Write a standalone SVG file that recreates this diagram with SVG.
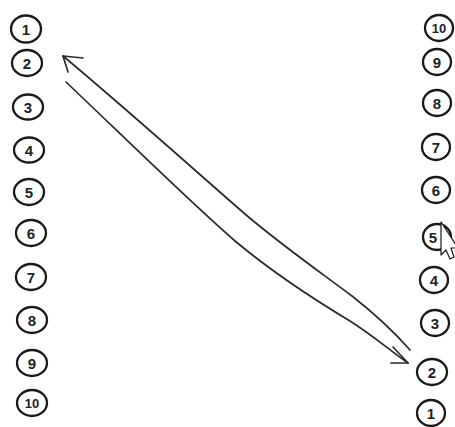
<svg xmlns="http://www.w3.org/2000/svg" width="455" height="427" viewBox="0 0 455 427">
<style>
.c{fill:#fff;stroke:#1a1a1a;stroke-width:2.3}
.t{font-family:"Liberation Sans",Arial,sans-serif;font-size:15px;font-weight:bold;fill:#222;text-anchor:middle;dominant-baseline:central}
.s{font-size:13px}
.ln{fill:none;stroke:#2a2a2a;stroke-width:1.7;stroke-linecap:round;stroke-linejoin:round}
</style>
<rect width="455" height="427" fill="#fff"/>
<g id="left">
<g id="L1"><ellipse class="c" cx="26" cy="29" rx="15" ry="13.5"/><text class="t" x="26" y="29">1</text></g>
<g id="L2"><ellipse class="c" cx="27" cy="63" rx="15" ry="13"/><text class="t" x="27" y="63">2</text></g>
<g id="L3"><ellipse class="c" cx="28" cy="107" rx="15" ry="12.5"/><text class="t" x="28" y="107">3</text></g>
<g id="L4"><ellipse class="c" cx="29" cy="150" rx="15" ry="12.5"/><text class="t" x="29" y="150">4</text></g>
<g id="L5"><ellipse class="c" cx="29" cy="192" rx="15" ry="13"/><text class="t" x="29" y="192">5</text></g>
<g id="L6"><ellipse class="c" cx="31" cy="233" rx="15" ry="13"/><text class="t" x="31" y="233">6</text></g>
<g id="L7"><ellipse class="c" cx="31" cy="277" rx="15" ry="13"/><text class="t" x="31" y="277">7</text></g>
<g id="L8"><ellipse class="c" cx="32" cy="320" rx="15" ry="13"/><text class="t" x="32" y="320">8</text></g>
<g id="L9"><ellipse class="c" cx="32" cy="363" rx="15" ry="13"/><text class="t" x="32" y="363">9</text></g>
<g id="L10"><ellipse class="c" cx="32" cy="403" rx="15" ry="13"/><text class="t s" x="32" y="403">10</text></g>
</g>
<g id="right">
<g id="R10"><ellipse class="c" cx="439" cy="28" rx="14" ry="13"/><text class="t s" x="439" y="28">10</text></g>
<g id="R9"><ellipse class="c" cx="437" cy="62" rx="14" ry="13"/><text class="t" x="437" y="62">9</text></g>
<g id="R8"><ellipse class="c" cx="437" cy="103" rx="14" ry="13"/><text class="t" x="437" y="103">8</text></g>
<g id="R7"><ellipse class="c" cx="436" cy="147" rx="14" ry="13"/><text class="t" x="436" y="147">7</text></g>
<g id="R6"><ellipse class="c" cx="436" cy="190" rx="14" ry="13"/><text class="t" x="436" y="190">6</text></g>
<g id="R5"><ellipse class="c" cx="437" cy="237" rx="14" ry="13"/><text class="t" x="433" y="237">5</text></g>
<g id="R4"><ellipse class="c" cx="434" cy="280" rx="14" ry="13"/><text class="t" x="434" y="280">4</text></g>
<g id="R3"><ellipse class="c" cx="435" cy="323" rx="14" ry="13"/><text class="t" x="435" y="323">3</text></g>
<g id="R2"><ellipse class="c" cx="432" cy="372" rx="15" ry="13"/><text class="t" x="432" y="372">2</text></g>
<g id="R1"><ellipse class="c" cx="431" cy="413" rx="14" ry="13"/><text class="t" x="431" y="413">1</text></g>
</g>
<g id="connectors">
<path class="ln" d="M63,56 C130,112 200,175 245,214 C280,244 320,272 352,296 C375,314 395,333 410,350"/>
<path class="ln" d="M66,82 C125,138 190,202 235,241 C265,266 305,294 350,321 C375,337 392,352 408,363"/>
<path class="ln" d="M83,58 L63,56 L68,72"/>
<path class="ln" d="M393,347 L408,363 L391,363"/>
</g>
<g id="cursor">
<path d="M441,222 L441,255 L446,250 L450,259 L454,257 L451,248 L458,248 Z" fill="#fff" stroke="#1a1a1a" stroke-width="1.2" stroke-linejoin="round"/>
</g>
</svg>
